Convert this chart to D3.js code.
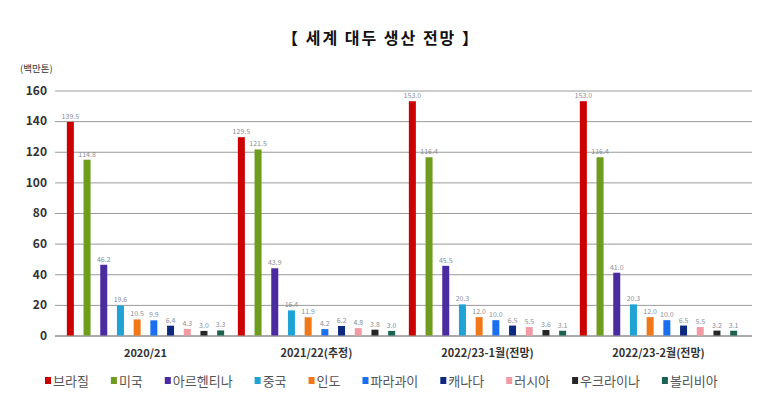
<!DOCTYPE html>
<html>
<head>
<meta charset="utf-8">
<script src="https://cdn.jsdelivr.net/npm/d3@7"></script>
<style>
  body { margin: 0; background: #fff; }
  svg text { font-family: "Noto Sans CJK KR", "Noto Sans", sans-serif; }
</style>
</head>
<body>
<div id="chart"></div>
<script>
// data
const categories = ["2020/21", "2021/22(추정)", "2022/23-1월(전망)", "2022/23-2월(전망)"];
const countries = ["브라질", "미국", "아르헨티나", "중국", "인도", "파라과이", "캐나다", "러시아", "우크라이나", "볼리비아"];
const values2020 = [139.5, 114.8, 46.2, 19.6, 10.5, 9.9, 6.4, 4.3, 3.0, 3.3];
const values2021 = [129.5, 121.5, 43.9, 16.4, 11.9, 4.2, 6.2, 4.8, 3.8, 3.0];
const values2022jan = [153.0, 116.4, 45.5, 20.3, 12.0, 10.0, 6.5, 5.5, 3.6, 3.1];
const values2022feb = [153.0, 116.4, 41.0, 20.3, 12.0, 10.0, 6.5, 5.5, 3.2, 3.1];
const yTicks = [0, 20, 40, 60, 80, 100, 120, 140, 160];
const colors = ["#cc0000", "#6e9c1c", "#4a2ca0", "#1fa3d4", "#f07818", "#1a6ff0", "#0e2a80", "#f29aa4", "#262626", "#1b6350"];

const series = [values2020, values2021, values2022jan, values2022feb];

const width = 773,
  height = 397,
  marginLeft = 55,
  gridRight = 752;

const svg = d3
  .select("#chart")
  .append("svg")
  .attr("width", width)
  .attr("height", height)
  .attr("viewBox", [0, 0, width, height]);

// scales
const x0 = d3.scaleBand().domain(categories).range([62, 746]);
const x1 = d3.scaleBand().domain(countries).range([0, 167]);
const y = d3.scaleLinear().domain([0, 160]).range([335.5, 90.5]);
const color = d3.scaleOrdinal().domain(countries).range(colors);
const barWidth = 7;

// title
svg
  .append("text")
  .attr("x", 381)
  .attr("y", 44)
  .attr("text-anchor", "middle")
  .attr("font-size", 16)
  .attr("font-weight", "bold")
  .attr("letter-spacing", 2)
  .attr("fill", "#111")
  .text("【 세계 대두 생산 전망 】");

// unit
svg
  .append("text")
  .attr("x", 20)
  .attr("y", 72)
  .attr("font-size", 9.5)
  .attr("fill", "#333")
  .text("(백만톤)");

// grid + y axis
svg
  .append("g")
  .attr("transform", `translate(${marginLeft},0)`)
  .call(
    d3.axisLeft(y).tickValues(yTicks).tickSize(-(gridRight - marginLeft)).tickPadding(8)
  )
  .call((g) => g.select(".domain").remove())
  .call((g) =>
    g
      .selectAll(".tick line")
      .attr("stroke", (d) => (d === 0 ? "#555" : "#9a9a9a"))
      .attr("stroke-width", 1)
  )
  .call((g) =>
    g
      .selectAll(".tick text")
      .attr("font-size", 12)
      .attr("font-weight", "bold")
      .attr("fill", "#333")
  );

// bars
const groups = svg
  .append("g")
  .selectAll("g")
  .data(categories)
  .join("g")
  .attr("transform", (c) => `translate(${x0(c)},0)`);

groups
  .selectAll("rect")
  .data((c, i) => countries.map((k, j) => ({ country: k, value: series[i][j] })))
  .join("rect")
  .attr("x", (d) => x1(d.country) + x1.bandwidth() / 2 - barWidth / 2)
  .attr("y", (d) => y(d.value))
  .attr("width", barWidth)
  .attr("height", (d) => y(0) - y(d.value))
  .attr("fill", (d) => color(d.country));

// value labels
groups
  .selectAll("text.val")
  .data((c, i) => countries.map((k, j) => ({ country: k, value: series[i][j] })))
  .join("text")
  .attr("class", "val")
  .attr("x", (d) => x1(d.country) + x1.bandwidth() / 2)
  .attr("y", (d) => y(d.value) - 3)
  .attr("text-anchor", "middle")
  .attr("font-size", 7)
  .attr("fill", "#8a8f99")
  .text((d) => d.value.toFixed(1));

// category labels
svg
  .append("g")
  .selectAll("text")
  .data(categories)
  .join("text")
  .attr("x", (c) => x0(c) + 167 / 2)
  .attr("y", 357)
  .attr("text-anchor", "middle")
  .attr("font-size", 11)
  .attr("font-weight", "bold")
  .attr("fill", "#333")
  .text((c) => c);

// legend
const legend = svg.append("g").attr("transform", "translate(45,381)");
let lx = 0;
countries.forEach((k) => {
  const item = legend.append("g").attr("transform", `translate(${lx},0)`);
  item
    .append("rect")
    .attr("x", 0)
    .attr("y", -4)
    .attr("width", 6)
    .attr("height", 7)
    .attr("fill", color(k));
  const t = item
    .append("text")
    .attr("x", 8)
    .attr("y", 5)
    .attr("font-size", 13)
    .attr("fill", "#555")
    .text(k);
  lx += 8 + t.node().getComputedTextLength() + 22;
});
</script>
</body>
</html>
